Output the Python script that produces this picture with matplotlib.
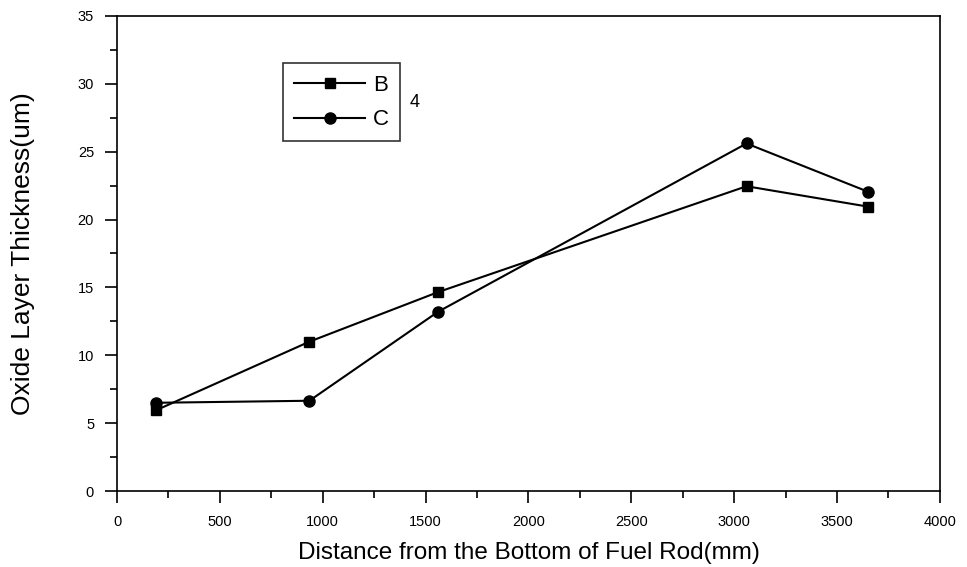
import matplotlib.pyplot as plt
from matplotlib.ticker import MultipleLocator

plt.rcParams['font.family'] = ['Liberation Sans', 'DejaVu Sans']

# distance from bottom of rod (mm) and oxide thickness (um)
x_b = [190, 935, 1560, 3060, 3650]
y_b = [5.95, 11.0, 14.65, 22.45, 20.95]
x_c = [190, 935, 1560, 3060, 3650]
y_c = [6.5, 6.65, 13.2, 25.6, 22.05]

fig = plt.figure(figsize=(9.67, 5.67), dpi=100)
ax = fig.add_axes([0.121, 0.134, 0.851, 0.838])

ax.plot(x_b, y_b, color='black', lw=1.5, marker='s', ms=7.5, label='B')
ax.plot(x_c, y_c, color='black', lw=1.5, marker='o', ms=8, label='C')

ax.set_xlim(0, 4000)
ax.set_ylim(0, 35)
ax.xaxis.set_major_locator(MultipleLocator(500))
ax.xaxis.set_minor_locator(MultipleLocator(250))
ax.yaxis.set_major_locator(MultipleLocator(5))
ax.yaxis.set_minor_locator(MultipleLocator(2.5))
ax.tick_params(which='major', direction='out', length=8.5, width=1.2, labelsize=10.5, pad=8)
ax.tick_params(which='minor', direction='out', length=5, width=1.2)
ax.tick_params(axis='x', which='major', pad=9)
for s in ax.spines.values():
    s.set_linewidth(1.2)

ax.set_xlabel('Distance from the Bottom of Fuel Rod(mm)', fontsize=17.5, labelpad=9)
ax.set_ylabel('Oxide Layer Thickness(um)', fontsize=19, labelpad=31)

leg = ax.legend(loc='upper left', bbox_to_anchor=(0.202, 0.9), fontsize=16,
                frameon=True, fancybox=False, edgecolor='black',
                handlelength=3.2, handletextpad=0.35, borderpad=0.5,
                labelspacing=0.62, borderaxespad=0)
leg.get_frame().set_linewidth(1.2)
ax.text(0.356, 0.818, '4', transform=ax.transAxes, fontsize=13, ha='left', va='center')

fig.savefig('out.png', dpi=100)
